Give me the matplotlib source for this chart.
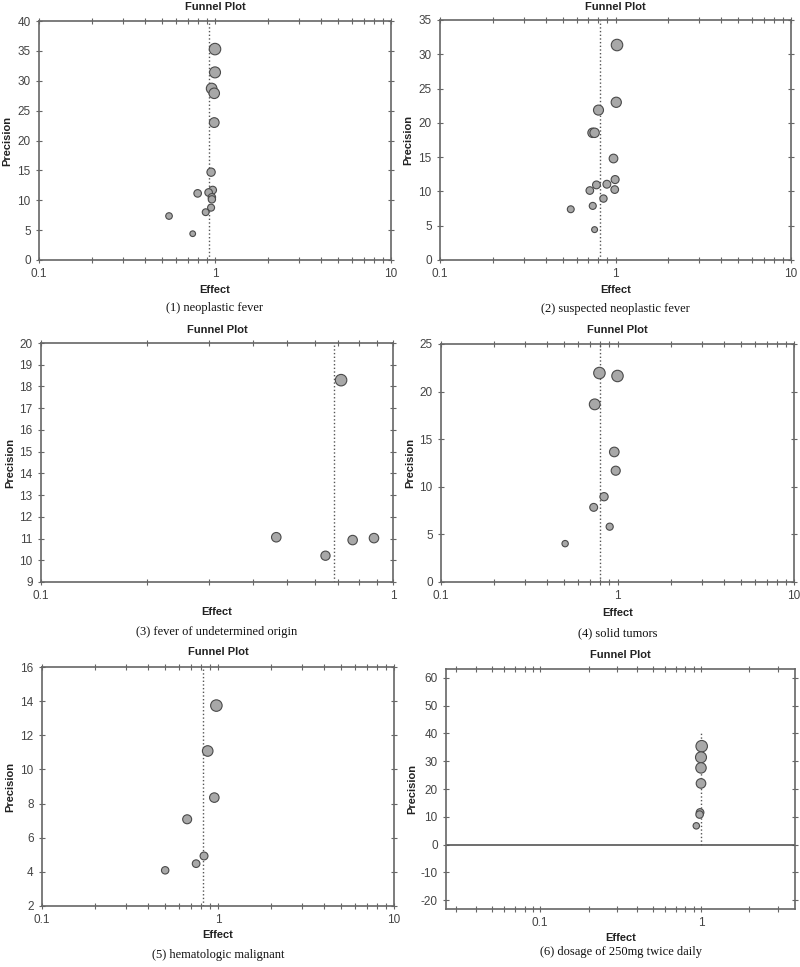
import numpy as np
import matplotlib
matplotlib.use('Agg')
import matplotlib.pyplot as plt
from matplotlib.ticker import LogLocator, NullFormatter, FixedLocator, FixedFormatter

plt.rcParams['axes.unicode_minus'] = False
plt.rcParams['font.family'] = ['Liberation Sans', 'DejaVu Sans']

# ---------------------------- data ----------------------------
captions = ['(1) neoplastic fever', '(2) suspected neoplastic fever', '(3) fever of undetermined origin',
            '(4) solid tumors', '(5) hematologic malignant', '(6) dosage of 250mg twice daily']

effect_1 = [1.0, 1.0, 0.957, 0.99, 0.99, 0.95, 0.97, 0.92, 0.797, 0.96, 0.96, 0.95, 0.885, 0.548, 0.747]
precision_1 = [35.3, 31.4, 28.7, 27.9, 23.0, 14.7, 11.7, 11.3, 11.15, 10.5, 10.15, 8.76, 8.0, 7.36, 4.4]
pooled_1 = 0.928

effect_2 = [1.02, 1.01, 0.80, 0.74, 0.76, 0.974, 0.995, 0.893, 0.779, 0.714, 0.99, 0.854, 0.742, 0.556, 0.76]
precision_2 = [31.35, 23.0, 21.86, 18.55, 18.55, 14.8, 11.73, 11.05, 10.95, 10.13, 10.27, 8.96, 7.89, 7.4, 4.43]
pooled_2 = 0.818

effect_3 = [0.712, 0.466, 0.643, 0.768, 0.883]
precision_3 = [18.29, 11.06, 10.21, 10.93, 11.02]
pooled_3 = 0.682

effect_4 = [0.79, 1.0, 0.743, 0.959, 0.977, 0.839, 0.733, 0.903, 0.505]
precision_4 = [21.95, 21.64, 18.66, 13.66, 11.69, 8.96, 7.84, 5.81, 4.03]
pooled_4 = 0.796

effect_5 = [0.979, 0.874, 0.953, 0.668, 0.833, 0.751, 0.501]
precision_5 = [13.74, 11.08, 8.35, 7.08, 4.93, 4.48, 4.09]
pooled_5 = 0.823

effect_6 = [1.01, 1.0, 1.0, 1.0, 0.987, 0.98, 0.935]
precision_6 = [35.4, 31.4, 27.6, 22.0, 11.55, 10.8, 6.74]
pooled_6 = 1.0

W, H = 800, 967
fig = plt.figure(figsize=(W / 100, H / 100), dpi=100)


def funnel(l, r, t, b, effect, precision, pooled, xlim, ylim, yticks, xticks, caption,
           title_y, effect_y, cap_y, prec_x, line_top=None):
    ax = fig.add_axes([l / W, 1 - b / H, (r - l) / W, (b - t) / H])
    ax.set_xscale('log')
    ax.set_xlim(xlim)
    ax.set_ylim(ylim)
    p = np.array(precision)
    d = 2.5 + 9 * np.sqrt(p / p.max())
    ax.scatter(effect, precision, s=(d * 0.72) ** 2, facecolor='#a8a8a8', edgecolor='#4a4a4a',
               linewidth=0.8, zorder=3)
    if line_top is None:
        ax.axvline(pooled, color='#555555', linestyle=':', linewidth=1.0, zorder=2)
    else:
        ax.plot([pooled, pooled], [0, line_top], color='#555555', linestyle=':', linewidth=1.0, zorder=2)
        ax.axhline(0, color='#555555', linewidth=1.2, zorder=2)
    ax.yaxis.set_major_locator(FixedLocator(yticks))
    ax.xaxis.set_major_locator(FixedLocator(xticks))
    ax.xaxis.set_major_formatter(FixedFormatter([('%g' % v) for v in xticks]))
    ax.xaxis.set_minor_locator(LogLocator(base=10, subs=np.arange(2, 10), numticks=20))
    ax.xaxis.set_minor_formatter(NullFormatter())
    ax.tick_params(which='both', direction='inout', top=True, right=True, colors='#666666',
                   labelcolor='#444444', labelsize=8.5, width=0.8)
    ax.tick_params(which='major', length=5)
    ax.tick_params(which='minor', length=4)
    for sp in ax.spines.values():
        sp.set_color('#666666')
        sp.set_linewidth(1.2)
    cx = (l + r) / 2 / W
    fig.text(cx, 1 - title_y / H, 'Funnel Plot', ha='center', va='center', fontsize=8,
             fontweight='bold', color='#222222')
    fig.text(cx, 1 - effect_y / H, 'Effect', ha='center', va='center', fontsize=8,
             fontweight='bold', color='#222222')
    fig.text(prec_x / W, 1 - (t + b) / 2 / H, 'Precision', ha='center', va='center', rotation=90,
             fontsize=8, fontweight='bold', color='#222222')
    fig.text(cx, 1 - cap_y / H, caption, ha='center', va='center', fontsize=9,
             family='Liberation Serif', color='#111111')
    return ax


funnel(39, 391, 21, 260, effect_1, precision_1, pooled_1, (0.1, 10), (0, 40),
       range(0, 41, 5), [0.1, 1, 10], captions[0], 7, 290, 308, 7)
funnel(440, 791, 20, 260, effect_2, precision_2, pooled_2, (0.1, 10), (0, 35),
       range(0, 36, 5), [0.1, 1, 10], captions[1], 7, 290, 309, 408)
funnel(41, 393, 343, 582, effect_3, precision_3, pooled_3, (0.1, 1), (9, 20),
       range(9, 21), [0.1, 1], captions[2], 330, 612, 632, 10)
funnel(441, 794, 344, 582, effect_4, precision_4, pooled_4, (0.1, 10), (0, 25),
       range(0, 26, 5), [0.1, 1, 10], captions[3], 330, 613, 633, 410)
funnel(42, 394, 667, 906, effect_5, precision_5, pooled_5, (0.1, 10), (2, 16),
       range(2, 17, 2), [0.1, 1, 10], captions[4], 652, 935, 955, 10)
funnel(446, 795, 669, 909, effect_6, precision_6, pooled_6, (0.026, 3.84), (-23.2, 63.2),
       range(-20, 61, 10), [0.1, 1], captions[5], 655, 938, 952, 412, line_top=40)

plt.savefig('out.png', dpi=100)
